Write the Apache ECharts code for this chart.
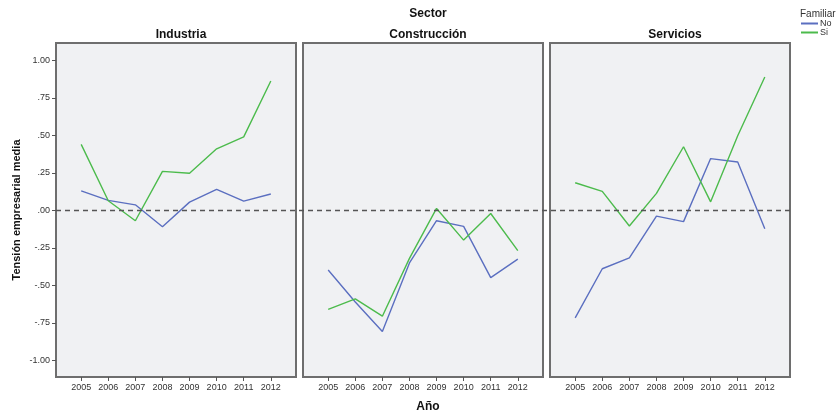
<!DOCTYPE html>
<html>
<head>
<meta charset="utf-8">
<script src="https://cdn.jsdelivr.net/npm/echarts@6/dist/echarts.min.js"></script>
<style>
  html, body { margin: 0; padding: 0; background: #ffffff; }
  #chart { width: 837px; height: 413px; }
</style>
</head>
<body>
<div id="chart"></div>
<script>
// Años del eje X y marcas del eje Y
const years = [2005, 2006, 2007, 2008, 2009, 2010, 2011, 2012];
const yTicks = [-1, -0.75, -0.5, -0.25, 0, 0.25, 0.5, 0.75, 1];
const sectors = ['Industria', 'Construcción', 'Servicios'];
const groups = ['No', 'Si'];

// Tensión empresarial media por sector y empresa familiar
const industriaNo = [0.13, 0.067, 0.037, -0.109, 0.055, 0.14, 0.062, 0.109];
const industriaSi = [0.44, 0.064, -0.069, 0.26, 0.247, 0.41, 0.49, 0.862];
const construccionNo = [-0.397, -0.61, -0.807, -0.35, -0.069, -0.107, -0.448, -0.325];
const construccionSi = [-0.659, -0.589, -0.705, -0.32, 0.013, -0.198, -0.021, -0.268];
const serviciosNo = [-0.716, -0.389, -0.317, -0.038, -0.075, 0.345, 0.322, -0.122];
const serviciosSi = [0.184, 0.127, -0.104, 0.113, 0.424, 0.057, 0.497, 0.889];

const valuesBySector = [
  [industriaNo, industriaSi],
  [construccionNo, construccionSi],
  [serviciosNo, serviciosSi]
];

const colors = { No: '#5b6fc0', Si: '#4cbb4c' };
const FONT = '"Liberation Sans", Arial, sans-serif';

const panelLefts = [56, 303, 550];
const panelWidth = 240;
const panelTop = 43;
const panelHeight = 334;
const yMin = -1.11, yMax = 1.115;
const xMin = 2004.07, xMax = 2012.93;

function fmtY(v) {
  return v.toFixed(2).replace(/^(-?)0\./, '$1.');
}

const grid = [], xAxis = [], yAxis = [], series = [], title = [];

title.push({
  text: 'Sector', left: 423, top: 3, textAlign: 'center',
  textStyle: { fontFamily: FONT, fontSize: 12, fontWeight: 'bold', color: '#111' }
});
title.push({
  text: 'Familiar', left: 795, top: 4,
  textStyle: { fontFamily: FONT, fontSize: 10, fontWeight: 'normal', color: '#333' }
});
title.push({
  text: 'Año', left: 423, top: 396, textAlign: 'center',
  textStyle: { fontFamily: FONT, fontSize: 12, fontWeight: 'bold', color: '#111' }
});

sectors.forEach((name, i) => {
  grid.push({
    left: panelLefts[i], top: panelTop, width: panelWidth, height: panelHeight,
    show: true, backgroundColor: '#f0f1f3', borderColor: '#6e6e6e', borderWidth: 2
  });
  title.push({
    text: name, left: panelLefts[i] + panelWidth / 2, top: 24, textAlign: 'center',
    textStyle: { fontFamily: FONT, fontSize: 12, fontWeight: 'bold', color: '#111' }
  });
  xAxis.push({
    type: 'value', gridIndex: i, min: xMin, max: xMax,
    axisLine: { show: false, onZero: false },
    splitLine: { show: false },
    axisTick: { show: true, customValues: years, length: 4, lineStyle: { color: '#555' } },
    axisLabel: {
      show: true, customValues: years, margin: 6,
      fontFamily: FONT, fontSize: 9, color: '#333',
      formatter: v => String(Math.round(v))
    }
  });
  yAxis.push({
    type: 'value', gridIndex: i, min: yMin, max: yMax,
    axisLine: { show: false, onZero: false },
    splitLine: { show: false },
    axisTick: { show: i === 0, customValues: yTicks, length: 4, lineStyle: { color: '#555' } },
    axisLabel: {
      show: i === 0, customValues: yTicks, margin: 6,
      fontFamily: FONT, fontSize: 9, color: '#333', formatter: fmtY
    },
    name: i === 0 ? 'Tensión empresarial media' : '',
    nameLocation: 'middle', nameGap: 34, nameRotate: 90,
    nameTextStyle: { fontFamily: FONT, fontSize: 11, fontWeight: 'bold', color: '#111' }
  });
  groups.forEach((g, k) => {
    series.push({
      name: g, type: 'line', xAxisIndex: i, yAxisIndex: i,
      data: years.map((yr, j) => [yr, valuesBySector[i][k][j]]),
      symbol: 'none', lineStyle: { color: colors[g], width: 1.4 },
      itemStyle: { color: colors[g] }, z: 3
    });
  });
});

// Línea de referencia en cero a lo ancho de los tres paneles
grid.push({ left: 56, top: panelTop, width: 734, height: panelHeight, show: false });
xAxis.push({ type: 'value', gridIndex: 3, min: 0, max: 1, show: false });
yAxis.push({ type: 'value', gridIndex: 3, min: yMin, max: yMax, show: false });
series.push({
  type: 'line', xAxisIndex: 3, yAxisIndex: 3, data: [], silent: true, z: 2,
  markLine: {
    symbol: 'none', silent: true, label: { show: false },
    lineStyle: { type: [5, 4], color: '#555', width: 1.3 },
    data: [{ yAxis: 0 }]
  }
});

const chart = echarts.init(document.getElementById('chart'), null, { renderer: 'canvas' });
chart.setOption({
  animation: false,
  backgroundColor: '#ffffff',
  title,
  legend: {
    data: groups, orient: 'vertical', left: 796, top: 14,
    itemWidth: 17, itemHeight: 2, itemGap: 0, icon: 'rect',
    textStyle: { fontFamily: FONT, fontSize: 9, lineHeight: 9, color: '#333', padding: [0, 0, 0, -3] }
  },
  grid, xAxis, yAxis, series
});
</script>
</body>
</html>
